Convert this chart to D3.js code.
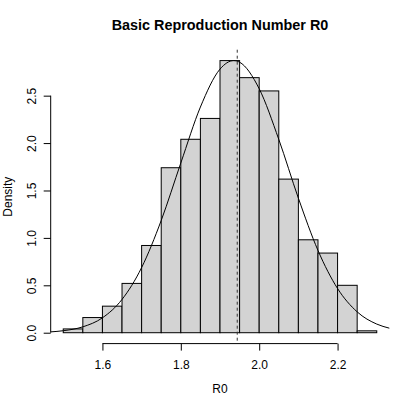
<!DOCTYPE html>
<html>
<head>
<meta charset="utf-8">
<script src="https://cdn.jsdelivr.net/npm/d3@7"></script>
<style>
  body { margin: 0; background: #fff; }
  svg text { font-family: "Liberation Sans", Arial, sans-serif; fill: #000; }
</style>
</head>
<body>
<svg width="415" height="408"></svg>
<script>
"use strict";

// histogram of R0, bin width 0.05
var binStart = [1.50, 1.55, 1.60, 1.65, 1.70, 1.75, 1.80, 1.85, 1.90, 1.95, 2.00, 2.05, 2.10, 2.15, 2.20, 2.25];
var density  = [0.04, 0.16, 0.28, 0.52, 0.92, 1.74, 2.04, 2.26, 2.87, 2.69, 2.55, 1.62, 0.98, 0.84, 0.50, 0.02];
var binWidth = 0.05;

// fitted density curve
var curveX = [1.468, 1.50, 1.55, 1.60, 1.65, 1.70, 1.75, 1.80, 1.85, 1.90, 1.935, 1.95, 2.00, 2.05, 2.10, 2.15, 2.20, 2.25, 2.30, 2.332];
var curveY = [0.009, 0.021, 0.062, 0.157, 0.351, 0.687, 1.184, 1.790, 2.380, 2.780, 2.870, 2.853, 2.573, 2.039, 1.419, 0.868, 0.466, 0.220, 0.091, 0.048];

var meanR0 = 1.944;

var xTicks = [1.6, 1.8, 2.0, 2.2];
var yTicks = [0.0, 0.5, 1.0, 1.5, 2.0, 2.5];

var svg = d3.select("svg"),
    margin = {top: 49.7, right: 25.7, bottom: 64.4, left: 50.7},
    width = +svg.attr("width") - margin.left - margin.right,
    height = +svg.attr("height") - margin.top - margin.bottom;

// R style 4% padding on both axes
var xlo = binStart[0], xhi = binStart[binStart.length - 1] + binWidth;
var ymax = d3.max(density);
var x = d3.scaleLinear()
    .domain([xlo - 0.04 * (xhi - xlo), xhi + 0.04 * (xhi - xlo)])
    .range([margin.left, margin.left + width]);
var y = d3.scaleLinear()
    .domain([-0.04 * ymax, 1.04 * ymax])
    .range([margin.top + height, margin.top]);

var bins = binStart.map(function(b, i) { return {x0: b, x1: b + binWidth, d: density[i]}; });

svg.append("g").selectAll("rect")
    .data(bins)
  .enter().append("rect")
    .attr("x", function(d) { return x(d.x0); })
    .attr("y", function(d) { return y(d.d); })
    .attr("width", function(d) { return x(d.x1) - x(d.x0); })
    .attr("height", function(d) { return y(0) - y(d.d); })
    .style("fill", "#d3d3d3")
    .style("stroke", "#000")
    .style("stroke-width", 1);

var line = d3.line()
    .curve(d3.curveMonotoneX)
    .x(function(d) { return x(d[0]); })
    .y(function(d) { return y(d[1]); });

svg.append("path")
    .datum(d3.zip(curveX, curveY))
    .attr("d", line)
    .style("fill", "none")
    .style("stroke", "#000")
    .style("stroke-width", 1);

// mean line
svg.append("line")
    .attr("x1", x(meanR0)).attr("x2", x(meanR0))
    .attr("y1", y.range()[1]).attr("y2", y.range()[0])
    .style("stroke", "#333")
    .style("stroke-width", 1)
    .style("stroke-dasharray", "3,3");

// axes, drawn by hand to look like base R
var xAxis = svg.append("g")
    .attr("transform", "translate(0," + (margin.top + height) + ")")
    .call(d3.axisBottom(x).tickValues(xTicks).tickSize(7).tickPadding(10)
        .tickFormat(d3.format(".1f")));
xAxis.select(".domain").attr("d", "M" + x(xTicks[0]) + ",0H" + x(xTicks[xTicks.length - 1]));

var yAxis = svg.append("g")
    .attr("transform", "translate(" + margin.left + ",0)")
    .call(d3.axisLeft(y).tickValues(yTicks).tickSize(7).tickFormat(d3.format(".1f")));
yAxis.select(".domain").attr("d", "M0," + y(yTicks[0]) + "V" + y(yTicks[yTicks.length - 1]));
yAxis.selectAll(".tick text")
    .attr("x", null).attr("dy", null)
    .attr("text-anchor", "middle")
    .attr("transform", "translate(-14.4,0) rotate(-90)");

svg.selectAll(".domain, .tick line").style("stroke", "#000");
svg.selectAll(".tick text").style("font-size", "12px").style("font-family", "Liberation Sans, Arial, sans-serif");

svg.append("text")
    .attr("x", margin.left + width / 2)
    .attr("y", 30)
    .attr("text-anchor", "middle")
    .style("font-size", "14.4px")
    .style("font-weight", "bold")
    .text("Basic Reproduction Number R0");

svg.append("text")
    .attr("x", margin.left + width / 2)
    .attr("y", 392.5)
    .attr("text-anchor", "middle")
    .style("font-size", "12px")
    .text("R0");

svg.append("text")
    .attr("transform", "translate(12," + (margin.top + height / 2) + ") rotate(-90)")
    .attr("text-anchor", "middle")
    .style("font-size", "12px")
    .text("Density");
</script>
</body>
</html>
